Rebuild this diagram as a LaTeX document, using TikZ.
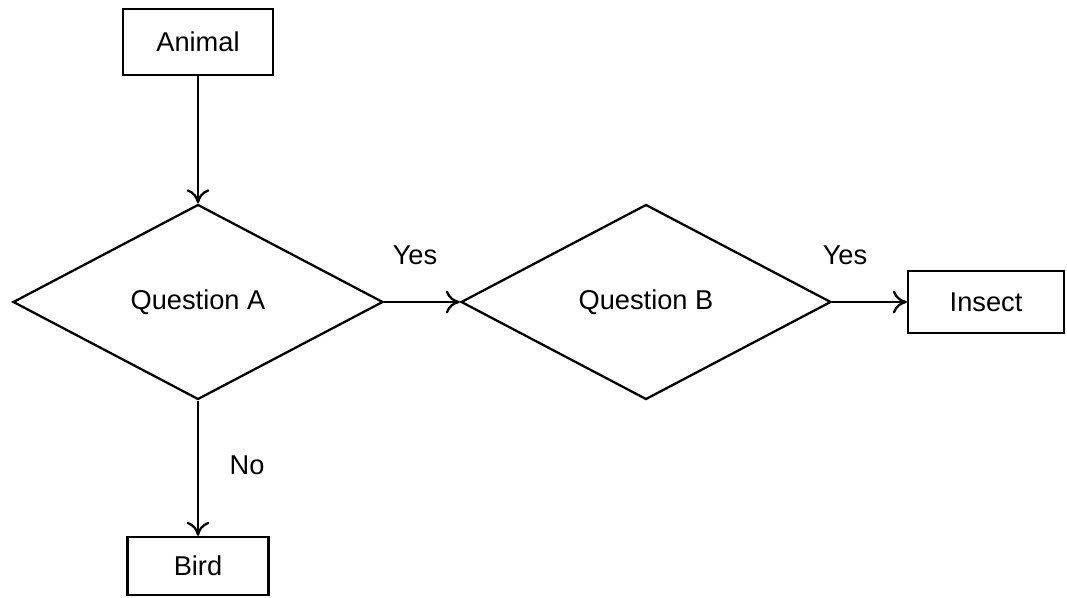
\documentclass[tikz,border=0pt]{standalone}
\usepackage{fontspec}
\setmainfont{Liberation Sans}
\usetikzlibrary{shapes,arrows.meta,positioning}

\begin{document}
\begin{tikzpicture}[
          box/.style={rectangle, draw, line width=1.3pt, inner sep=0pt},
          choice/.style={diamond, draw, line width=1.3pt, inner sep=0pt,
                         minimum width=7.4cm, minimum height=3.9cm},
          lbl/.style={inner sep=0pt},
          every node/.style={font=\fontsize{15.5}{18}\selectfont},
          ->, >={To[length=8pt,width=13pt]}, line width=1.3pt
        ]
        \useasboundingbox (0,0) rectangle (21.34,11.96);

        % Left column
        \node[box, minimum width=3cm, minimum height=1.32cm] (animal) at (3.96,11.12) {Animal};
        \node[choice] (qa) at (3.96,5.92) {Question A};
        \node[box, minimum width=2.82cm, minimum height=1.16cm] (bird) at (3.96,0.64) {Bird};

        % Right of the first question
        \node[choice] (qb) at (12.92,5.92) {Question B};
        \node[box, minimum width=3.12cm, minimum height=1.24cm] (insect) at (19.72,5.92) {Insect};

        % Answers
        \node[lbl] (yes1) at (8.3,6.86) {Yes};
        \node[lbl] (yes2) at (16.9,6.86) {Yes};
        \node[lbl] (no) at (4.94,2.66) {No};

        % Arrows
        \draw (animal) -> (qa);
        \draw (qa) -> (qb);
        \draw (qb) -> (insect);
        \draw (qa) -> (bird);

      \end{tikzpicture}
\end{document}
